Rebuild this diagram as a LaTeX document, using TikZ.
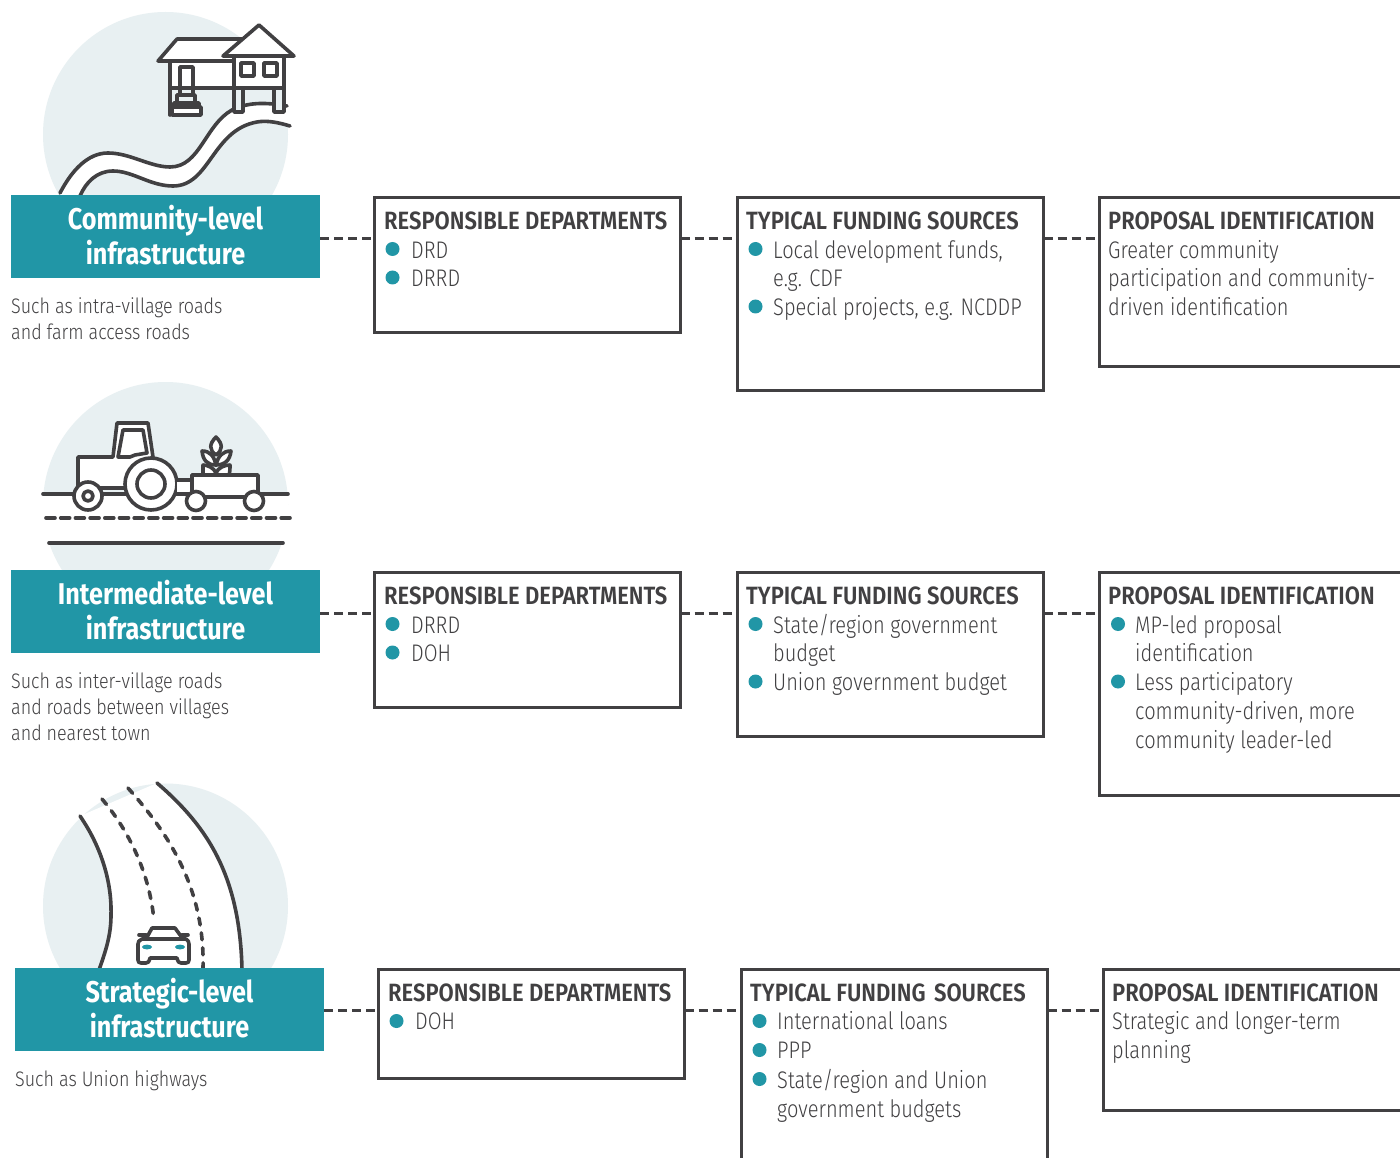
\documentclass[tikz,border=0pt]{standalone}
\usepackage{fontspec}
\newfontfamily\lightf[FakeStretch=0.835]{Fira Sans Light}
\newfontfamily\capf[FakeStretch=0.853]{Fira Sans Light}
\newfontfamily\headf[FakeStretch=0.88]{Fira Sans SemiBold}
\newfontfamily\titlef[FakeStretch=0.84]{Fira Sans Bold}
\definecolor{teal}{HTML}{2196A6}
\definecolor{ink}{HTML}{414042}
\definecolor{disc}{HTML}{E8F0F2}
\newcounter{tn}
\tikzset{
  x=1pt,y=-1pt,
  stroke/.style={draw=ink,line width=3.6pt,line cap=round,line join=round},
  banner/.style={fill=teal,text=white,anchor=north west,minimum width=309pt,minimum height=83pt,inner sep=0pt,outer sep=0pt},
  infobox/.style={draw=ink,line width=2.8pt,fill=white,anchor=north west,inner sep=0pt,outer sep=0pt},
  link/.style={draw=ink,line width=2.8pt,dash pattern=on 9pt off 5pt},
  dot/.style={circle,fill=teal,minimum size=14pt,inner sep=0pt},
  linetext/.style={anchor=base west,inner sep=0pt,text=ink},
  disc/.style={fill=disc}
}
\newcommand{\hd}[3]{\stepcounter{tn}\node[linetext] (t\thetn) at (#1,#2) {\fontsize{25}{29}\selectfont\headf #3};}
\newcommand{\bd}[3]{\stepcounter{tn}\node[linetext] (t\thetn) at (#1,#2) {\fontsize{24}{29}\selectfont\lightf #3};}
\newcommand{\cp}[3]{\stepcounter{tn}\node[linetext] (t\thetn) at (#1,#2) {\fontsize{21}{26}\selectfont\capf #3};}
\newcommand{\bu}[2]{\stepcounter{tn}\node[dot] (t\thetn) at (#1,#2) {};}
\newcommand{\banner}[4]{\node[banner] (#1) at (#2,#3) {\begin{minipage}{309pt}\centering\fontsize{30}{35}\selectfont\titlef #4\par\vspace*{2pt}\end{minipage}};}
\begin{document}
\begin{tikzpicture}
\useasboundingbox (0,0) rectangle (1400,1158);
\clip (0,0) rectangle (1400,1158);
\fill[white] (0,0) rectangle (1400,1158);
% discs
\fill[disc] (165.5,134.5) circle (122.5pt);
\fill[disc] (165.5,504.5) circle (122.5pt);
\fill[disc] (165.5,906) circle (122.5pt);

% ---------- road 1
\fill[white] (60,193) .. controls (72,170) and (88,153) .. (108,153) .. controls (130,153) and (150,167) .. (170,167) .. controls (200,167) and (205,125) .. (232,110) .. controls (250,101) and (270,103) .. (287,106) -- (290,126) .. controls (280,123) and (268,120) .. (257,122) .. controls (212,130) and (210,186) .. (173,186) .. controls (150,186) and (133,171) .. (113,171) .. controls (97,171) and (86,182) .. (80,196) -- (60,196) -- cycle;
\draw[stroke] (60,193) .. controls (72,170) and (88,153) .. (108,153) .. controls (130,153) and (150,167) .. (170,167) .. controls (200,167) and (205,125) .. (232,110) .. controls (250,101) and (270,103) .. (287,106);
\draw[stroke] (80,196) .. controls (86,182) and (97,171) .. (113,171) .. controls (133,171) and (150,186) .. (173,186) .. controls (210,186) and (212,130) .. (257,122) .. controls (268,120) and (280,123) .. (290,126);
% house
\draw[stroke,fill=white] (170,61) rectangle (234,88);
\draw[stroke] (170,88) -- (170,115);
\draw[stroke,fill=white] (180,88) -- (180,67) -- (193,67) -- (193,88);
\draw[stroke,fill=white] (158,61) -- (177,39) -- (243,39) -- (233,61) -- cycle;
\draw[stroke,fill=white] (234,56) rectangle (284,88);
\draw[stroke,fill=white] (223,56) -- (259,25) -- (294,56) -- cycle;
\draw[stroke] (241,63) rectangle (254,76);
\draw[stroke] (264,63) rectangle (277,76);
\draw[stroke] (170,88) -- (284,88);
\draw[stroke,fill=disc] (234,88) rectangle (243,112);
\draw[stroke,fill=disc] (274,88) rectangle (284,112);
\draw[stroke] (180,88) -- (180,95);
\draw[stroke] (193,88) -- (193,95);
\draw[stroke] (177,103) -- (177,95) -- (195,95) -- (195,103);
\draw[stroke] (174,107) -- (174,103) -- (199,103) -- (199,107);
\draw[stroke,fill=white] (172,107) rectangle (201,115);

% ---------- tractor
\fill[white] (43,494) rectangle (288,543);
\draw[stroke] (43,494) -- (288,494);
\draw[stroke,dash pattern=on 9pt off 5.7pt] (46,518) -- (290,518);
\draw[stroke] (49,543) -- (283,543);
\draw[stroke,fill=white] (78,486) -- (78,457) -- (113,457) -- (117,423) -- (148,423) -- (153,457) -- (153,488) -- (102,488) -- cycle;
\draw[stroke] (118,457) -- (123,430) -- (143,430) -- (147,453) -- (135,455) -- (130,457) -- cycle;
\draw[stroke,fill=white] (151,484) circle (26pt);
\draw[stroke] (151,484) circle (14pt);
\draw[stroke,fill=white] (88,496) circle (14pt);
\draw[stroke] (88,496) circle (5pt);
\draw[stroke,fill=white] (177,480) -- (192,480) -- (192,494) -- (177,494);
% wheat
\draw[stroke,fill=white] (216,437) .. controls (209,444) and (209,450) .. (216,455) .. controls (223,450) and (223,444) .. (216,437) -- cycle;
\draw[stroke,fill=white] (202,451) .. controls (210,451) and (214,456) .. (216,465) .. controls (207,465) and (203,460) .. (202,451) -- cycle;
\draw[stroke,fill=white] (231,451) .. controls (223,451) and (218,456) .. (216,465) .. controls (225,465) and (230,460) .. (231,451) -- cycle;
\draw[stroke,fill=white] (203,465) .. controls (203,470) and (203,474) .. (203,475) -- (229,475) .. controls (230,472) and (230,468) .. (230,465) .. controls (224,465) and (218,468) .. (216,473) .. controls (214,468) and (208,465) .. (203,465) -- cycle;
% trailer
\draw[stroke,fill=white] (192,475) rectangle (258,497);
\draw[stroke,fill=white] (196,501) circle (9.5pt);
\draw[stroke,fill=white] (254,501) circle (9.5pt);

% ---------- road 3
\fill[white] (80,816) .. controls (100,845) and (112,880) .. (111,915) .. controls (111,935) and (106,950) .. (99,970) -- (242,970) .. controls (240,875) and (207,826) .. (157,783) -- cycle;
\draw[stroke] (80,816) .. controls (100,845) and (112,880) .. (111,915) .. controls (111,935) and (106,950) .. (99,970);
\draw[stroke] (157,783) .. controls (207,826) and (240,875) .. (242,970);
\draw[stroke,dash pattern=on 7pt off 8pt] (102,799) .. controls (130,832) and (150,875) .. (154,921);
\draw[stroke,dash pattern=on 7pt off 8pt] (128,788) .. controls (170,835) and (205,890) .. (203,968);
% car
\draw[stroke,fill=white] (146,939) -- (152,928) -- (175,928) -- (183,939);
\draw[stroke] (139,935) -- (146,935);
\draw[stroke] (182,935) -- (188,935);
\draw[stroke,fill=white] (142,939) -- (186,939) .. controls (188,940) and (189,942) .. (189,944) -- (189,960) .. controls (189,962) and (188,963) .. (186,963) -- (181,963) .. controls (179,963) and (178,962) .. (177,958) -- (150,958) .. controls (149,962) and (148,963) .. (146,963) -- (141,963) .. controls (139,963) and (138,962) .. (138,960) -- (138,944) .. controls (138,942) and (139,940) .. (142,939) -- cycle;
\fill[teal] (147,947) ellipse (5pt and 2.4pt);
\fill[teal] (180,947) ellipse (5pt and 2.4pt);

% ---------- row 1
\banner{a0}{11}{195}{Community-level\\infrastructure}
\node[infobox,minimum width=306pt,minimum height=135pt] (a1) at (374.5,197.5) {};
\node[infobox,minimum width=306pt,minimum height=193pt] (a2) at (737.5,197.5) {};
\node[infobox,minimum width=340pt,minimum height=169pt] (a3) at (1099.5,197.5) {};
\coordinate (ya) at (0,238.3);
\draw[link] (a0.east |- ya) -- (a1.west |- ya);
\draw[link] (a1.east |- ya) -- (a2.west |- ya);
\draw[link] (a2.east |- ya) -- (a3.west |- ya);
\cp{11}{313}{Such as intra-village roads}
\cp{11}{339}{and farm access roads}
\hd{384}{230}{RESPONSIBLE DEPARTMENTS}
\bu{392.5}{249} \bd{411}{259}{DRD}
\bu{392.5}{277.5} \bd{411}{287}{DRRD}
\hd{746}{230}{TYPICAL FUNDING SOURCES}
\bu{755.5}{249} \bd{773}{259}{Local development funds,}
\bd{773}{287}{e.g. CDF}
\bu{755.5}{306.5} \bd{773}{316}{Special projects, e.g. NCDDP}
\hd{1108}{230}{PROPOSAL IDENTIFICATION}
\bd{1108}{259}{Greater community}
\bd{1108}{287}{participation and community-}
\bd{1108}{316}{driven identification}

% ---------- row 2
\banner{b0}{11}{570}{Intermediate-level\\infrastructure}
\node[infobox,minimum width=306pt,minimum height=135pt] (b1) at (374.5,572.5) {};
\node[infobox,minimum width=306pt,minimum height=164pt] (b2) at (737.5,572.5) {};
\node[infobox,minimum width=340pt,minimum height=223pt] (b3) at (1099.5,572.5) {};
\coordinate (yb) at (0,613.3);
\draw[link] (b0.east |- yb) -- (b1.west |- yb);
\draw[link] (b1.east |- yb) -- (b2.west |- yb);
\draw[link] (b2.east |- yb) -- (b3.west |- yb);
\cp{11}{688}{Such as inter-village roads}
\cp{11}{714}{and roads between villages}
\cp{11}{740}{and nearest town}
\hd{384}{604}{RESPONSIBLE DEPARTMENTS}
\bu{392.5}{624} \bd{411}{633}{DRRD}
\bu{392.5}{652.5} \bd{411}{661}{DOH}
\hd{746}{604}{TYPICAL FUNDING SOURCES}
\bu{755.5}{624} \bd{773}{633}{State/region government}
\bd{773}{661}{budget}
\bu{755.5}{681.5} \bd{773}{690}{Union government budget}
\hd{1108}{604}{PROPOSAL IDENTIFICATION}
\bu{1118}{624} \bd{1135}{633}{MP-led proposal}
\bd{1135}{661}{identification}
\bu{1118}{681.5} \bd{1135}{690}{Less participatory}
\bd{1135}{719}{community-driven, more}
\bd{1135}{748}{community leader-led}

% ---------- row 3
\banner{c0}{15}{968}{Strategic-level\\infrastructure}
\node[infobox,minimum width=306pt,minimum height=109pt] (c1) at (378.5,969.5) {};
\node[infobox,minimum width=306pt,minimum height=220pt] (c2) at (741.5,969.5) {};
\node[infobox,minimum width=340pt,minimum height=141pt] (c3) at (1103.5,969.5) {};
\coordinate (yc) at (0,1010.3);
\draw[link] (c0.east |- yc) -- (c1.west |- yc);
\draw[link] (c1.east |- yc) -- (c2.west |- yc);
\draw[link] (c2.east |- yc) -- (c3.west |- yc);
\cp{15}{1086}{Such as Union highways}
\hd{388}{1001}{RESPONSIBLE DEPARTMENTS}
\bu{396.5}{1021} \bd{415}{1029}{DOH}
\hd{750}{1001}{TYPICAL FUNDING\hspace*{3pt} SOURCES}
\bu{759.5}{1021} \bd{777}{1029}{International loans}
\bu{759.5}{1050} \bd{777}{1058}{PPP}
\bu{759.5}{1079} \bd{777}{1088}{State/region and Union}
\bd{777}{1117}{government budgets}
\hd{1112}{1001}{PROPOSAL IDENTIFICATION}
\bd{1112}{1029}{Strategic and longer-term}
\bd{1112}{1058}{planning}
\end{tikzpicture}
\end{document}
